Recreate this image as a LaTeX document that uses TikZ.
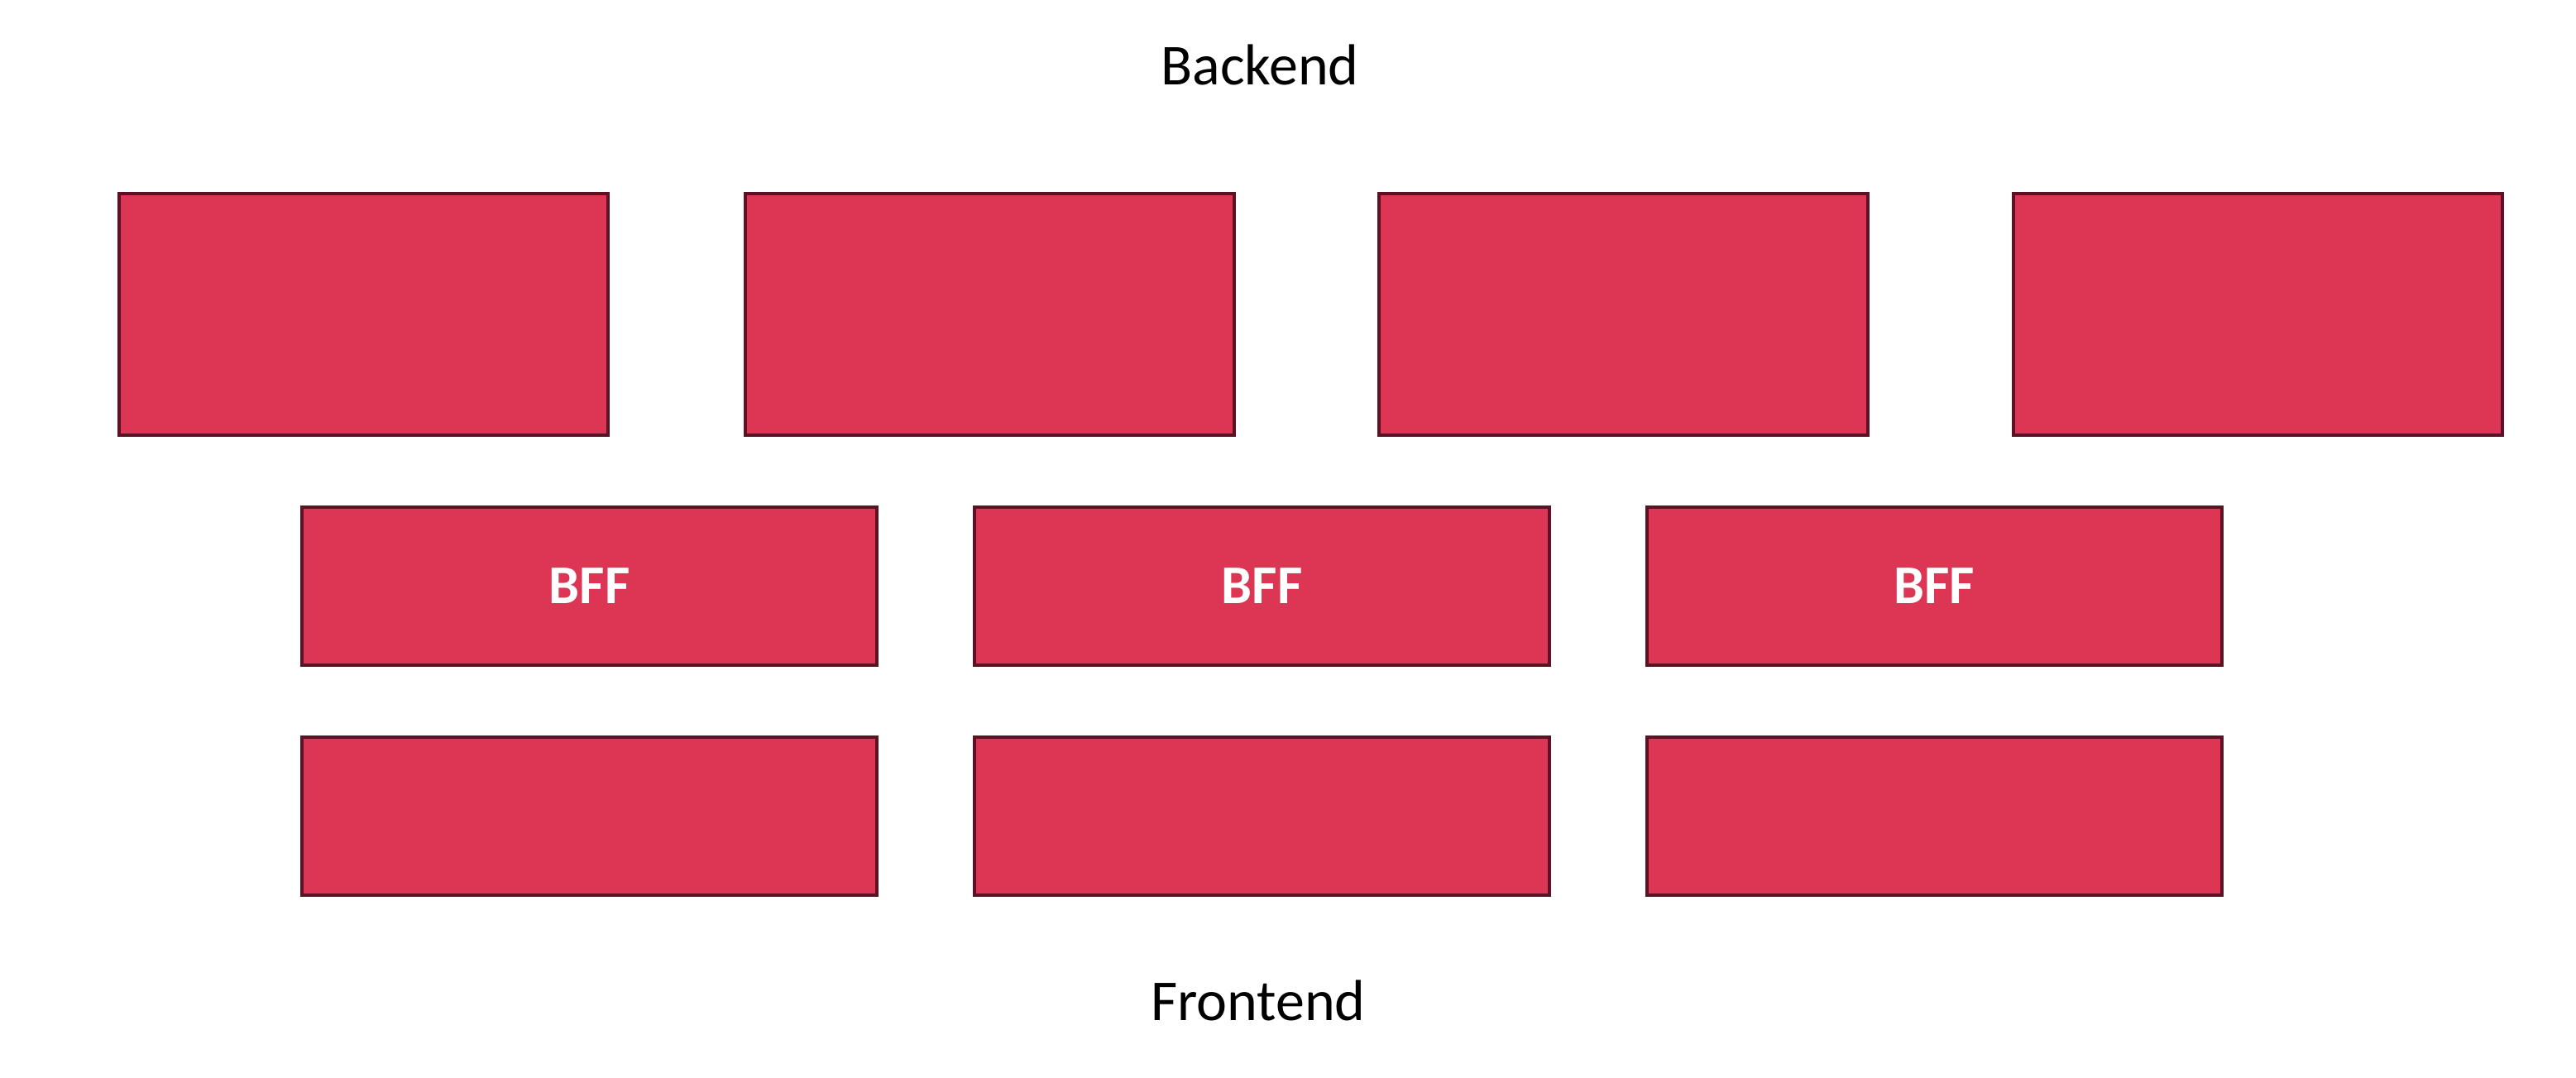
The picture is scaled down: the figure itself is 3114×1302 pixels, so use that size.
\documentclass[tikz,border=0pt]{standalone}
\usepackage{fontspec}
\setmainfont{Carlito}
\definecolor{boxfill}{HTML}{DD3654}
\definecolor{boxline}{HTML}{5E1024}
\begin{document}
\begin{tikzpicture}[x=0.5pt,y=-0.5pt,
  brick/.style={draw=boxline,fill=boxfill,line width=2pt,inner sep=0pt,rectangle},
  topbrick/.style={brick,minimum width=295.5pt,minimum height=146pt},
  midbrick/.style={brick,minimum width=347.5pt,minimum height=95.5pt,
    font=\fontsize{33}{36}\selectfont\bfseries,text=white,text height=21pt,text depth=0pt},
  lowbrick/.style={brick,minimum width=347.5pt,minimum height=95.5pt},
  caption/.style={font=\fontsize{35}{40}\selectfont,anchor=base,inner sep=0pt}]
\useasboundingbox (0,0) rectangle (3114,1302);
% top row (backend services)
\node[topbrick] (b1) at (439.5,380) {};
\node[topbrick] (b2) at (1196.5,380) {};
\node[topbrick] (b3) at (1962.5,380) {};
\node[topbrick] (b4) at (2729.5,380) {};
% BFF row
\node[midbrick] (f1) at (712.5,708.5) {BFF};
\node[midbrick] (f2) at (1525.5,708.5) {BFF};
\node[midbrick] (f3) at (2338,708.5) {BFF};
% frontend row
\node[lowbrick] (c1) at (712.5,986.5) {};
\node[lowbrick] (c2) at (1525.5,986.5) {};
\node[lowbrick] (c3) at (2338,986.5) {};
% captions
\node[caption] (backend) at (1523,102) {Backend};
\node[caption] (frontend) at (1521,1233) {Frontend};
\end{tikzpicture}
\end{document}
